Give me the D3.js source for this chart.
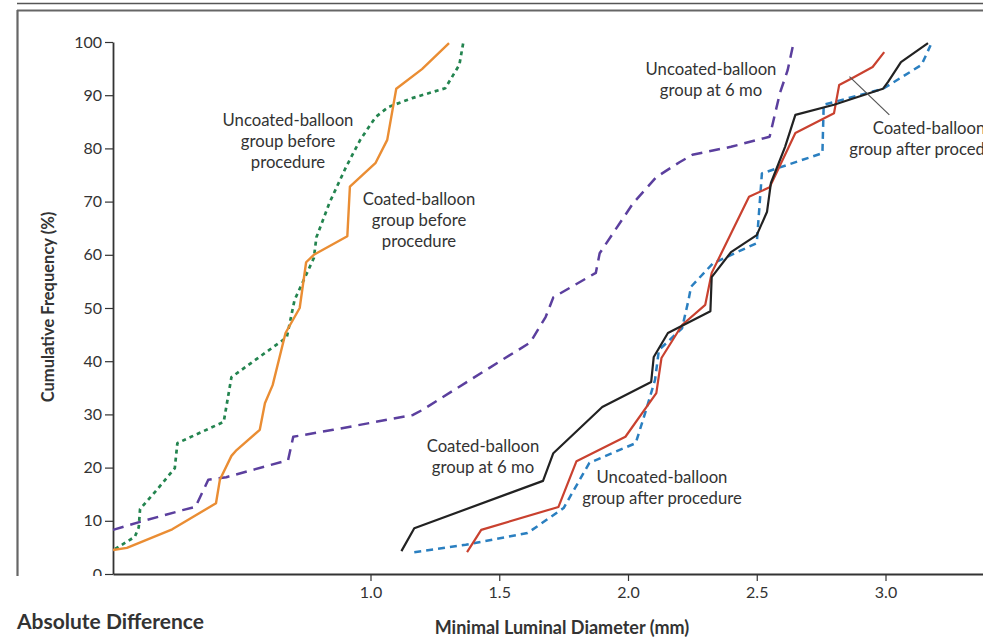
<!DOCTYPE html>
<html><head><meta charset="utf-8">
<script src="https://cdn.jsdelivr.net/npm/d3@7"></script>
<style>
html,body{margin:0;padding:0;background:#fff;}
svg{display:block;}
text{font-family:Lato,"Open Sans",sans-serif;fill:#333;}
</style></head>
<body>
<svg id="chart" width="994" height="637"></svg>
<script>
// ---- data (minimal luminal diameter in mm, cumulative frequency in %) ----
const coatedBeforeX   = [0,0.054,0.23,0.40,0.415,0.46,0.48,0.57,0.59,0.62,0.67,0.725,0.75,0.78,0.91,0.92,1.02,1.065,1.10,1.20,1.305];
const coatedBeforeY   = [4.5,4.9,8.4,13.3,17.7,22.2,23.3,27.1,32.1,35.5,45.3,50,58.6,60,63.5,72.8,77.3,81.6,91.2,94.9,99.8];

const uncoatedBeforeX = [0.008,0.085,0.10,0.105,0.17,0.24,0.25,0.43,0.46,0.675,0.705,0.78,0.79,0.84,0.905,0.96,1.02,1.07,1.165,1.29,1.345,1.36];
const uncoatedBeforeY = [4.7,7.0,8.8,12.2,15.8,19.9,24.6,28.6,37.0,44.5,51.5,59.4,63.3,69.7,76.5,81.6,85.9,87.8,89.5,91.3,95.7,99.8];

const uncoated6moX    = [0,0.105,0.27,0.32,0.37,0.44,0.68,0.70,0.855,1.165,1.20,1.50,1.62,1.68,1.71,1.875,1.89,2.02,2.11,2.20,2.25,2.40,2.55,2.59,2.62,2.64];
const uncoated6moY    = [8.3,9.8,12.0,12.6,17.7,18.2,21.4,25.8,27.1,29.9,30.8,39.9,43.5,48.3,52.0,56.6,60.3,69.7,74.6,77.4,78.8,80.3,82.2,90.4,94.7,99.2];

const coated6moX      = [1.12,1.17,1.67,1.71,1.90,2.09,2.10,2.155,2.32,2.325,2.40,2.50,2.54,2.555,2.61,2.65,2.80,2.99,3.01,3.06,3.165];
const coated6moY      = [4.3,8.6,17.5,22.7,31.4,36.1,40.8,45.3,49.4,55.8,60.5,63.7,68.1,73.5,80.3,86.3,88.2,91.2,92.5,96.2,99.8];

const coatedAfterX    = [1.375,1.43,1.73,1.80,1.99,2.11,2.13,2.21,2.30,2.325,2.47,2.55,2.65,2.80,2.82,2.87,2.95,2.995];
const coatedAfterY    = [4.1,8.3,12.6,21.2,25.8,34.0,40.6,46.8,50.6,56.6,70.9,72.7,82.9,86.6,91.9,93.2,95.3,98.1];

const uncoatedAfterX  = [1.17,1.37,1.61,1.75,1.85,2.03,2.07,2.105,2.12,2.21,2.235,2.245,2.33,2.50,2.52,2.755,2.76,2.99,3.14,3.175];
const uncoatedAfterY  = [4.1,5.5,7.7,12.4,20.9,24.6,30.8,36.5,42.1,46.2,51.5,54.0,58.4,62.2,75.3,79.1,88.2,91.2,95.7,99.4];

const xTicks = [1.0,1.5,2.0,2.5,3.0];
const yTicks = [0,10,20,30,40,50,60,70,80,90,100];

const labels = {
  uncoatedBefore: ["Uncoated-balloon","group before","procedure"],
  coatedBefore: ["Coated-balloon","group before","procedure"],
  uncoated6mo: ["Uncoated-balloon","group at 6 mo"],
  coatedAfter: ["Coated-balloon","group after procedure"],
  coated6mo: ["Coated-balloon","group at 6 mo"],
  uncoatedAfter: ["Uncoated-balloon","group after procedure"]
};

// ---- drawing ----
const svg = d3.select("#chart");
svg.append("defs").append("clipPath").attr("id","panel")
  .append("rect").attr("x",0).attr("y",0).attr("width",983).attr("height",637);
const root = svg.append("g").attr("clip-path","url(#panel)");

const x = d3.scaleLinear().domain([0,3.5]).range([113, 113 + 3.5*257.5]);
const y = d3.scaleLinear().domain([0,100]).range([574,42]);

// frame lines
root.append("line").attr("x1",17).attr("x2",983).attr("y1",3.5).attr("y2",3.5).attr("stroke","#555").attr("stroke-width",1.5);
root.append("line").attr("x1",17).attr("x2",983).attr("y1",10.5).attr("y2",10.5).attr("stroke","#666").attr("stroke-width",2.2);
root.append("line").attr("x1",17.5).attr("x2",17.5).attr("y1",10).attr("y2",576).attr("stroke","#666").attr("stroke-width",2.2);

// axes
const yAxis = root.append("g").attr("transform","translate(113,0)")
  .call(d3.axisLeft(y).tickValues(yTicks).tickSize(8).tickSizeOuter(0).tickPadding(3));
const xAxis = root.append("g").attr("transform","translate(0,574)")
  .call(d3.axisBottom(x).tickValues(xTicks).tickFormat(d3.format(".1f")).tickSize(7).tickSizeOuter(0).tickPadding(6));
[yAxis,xAxis].forEach(g=>{
  g.selectAll("path.domain").attr("stroke","#333").attr("stroke-width",1.8);
  g.selectAll(".tick line").attr("stroke","#333").attr("stroke-width",1.2);
  g.selectAll(".tick text").style("font-family","Lato, sans-serif").style("font-size","16px").attr("fill","#333");
});
// cover lower part of the "0" label as in the reference crop
root.append("rect").attr("x",0).attr("y",576).attr("width",350).attr("height",20).attr("fill","#fff");

// series
const line = d3.line().x(d=>x(d[0])).y(d=>y(d[1]));
const zip = (a,b)=>a.map((v,i)=>[v,b[i]]);
const series = [
  {x:uncoated6moX, y:uncoated6moY, c:"#5b3f9e", dash:"11,7", w:2.5},
  {x:uncoatedBeforeX, y:uncoatedBeforeY, c:"#23844f", dash:"4,4", w:2.7},
  {x:coatedBeforeX, y:coatedBeforeY, c:"#ea8d33", dash:null, w:2.4},
  {x:uncoatedAfterX, y:uncoatedAfterY, c:"#2a7fc0", dash:"7,5", w:2.5},
  {x:coatedAfterX, y:coatedAfterY, c:"#c9412f", dash:null, w:2.2},
  {x:coated6moX, y:coated6moY, c:"#222", dash:null, w:2.2}
];
series.forEach(s=>{
  root.append("path").datum(zip(s.x,s.y)).attr("d",line)
    .attr("fill","none").attr("stroke",s.c).attr("stroke-width",s.w)
    .attr("stroke-dasharray",s.dash).attr("stroke-linejoin","round");
});

// leader line
root.append("line").attr("x1",x(2.86)).attr("y1",y(93.5)).attr("x2",x(3.015)).attr("y2",y(86.3))
  .attr("stroke","#555").attr("stroke-width",1.2);

// annotations
function label(lines, cx, yTop, lh){
  const t = root.append("text").attr("text-anchor","middle").style("font-size","16.7px");
  lines.forEach((l,i)=>t.append("tspan").attr("x",cx).attr("y",yTop+i*lh).text(l));
}
label(labels.uncoatedBefore, 288, 126, 21);
label(labels.coatedBefore, 419, 205, 21);
label(labels.uncoated6mo, 711, 75, 21);
label(labels.coatedAfter, 929, 134, 21);
label(labels.coated6mo, 483, 452, 21);
label(labels.uncoatedAfter, 662, 483, 21);

// axis titles
root.append("text").attr("transform","translate(54,307) rotate(-90)").attr("text-anchor","middle")
  .style("font-size","16.5px").style("font-weight","bold").attr("fill","#222").text("Cumulative Frequency (%)");
root.append("text").attr("x",562).attr("y",634).attr("text-anchor","middle")
  .style("font-size","18px").style("font-weight","bold").attr("fill","#222").text("Minimal Luminal Diameter (mm)");
root.append("text").attr("x",17).attr("y",629)
  .style("font-size","21px").style("font-weight","bold").attr("fill","#222").text("Absolute Difference");
</script>
</body></html>
